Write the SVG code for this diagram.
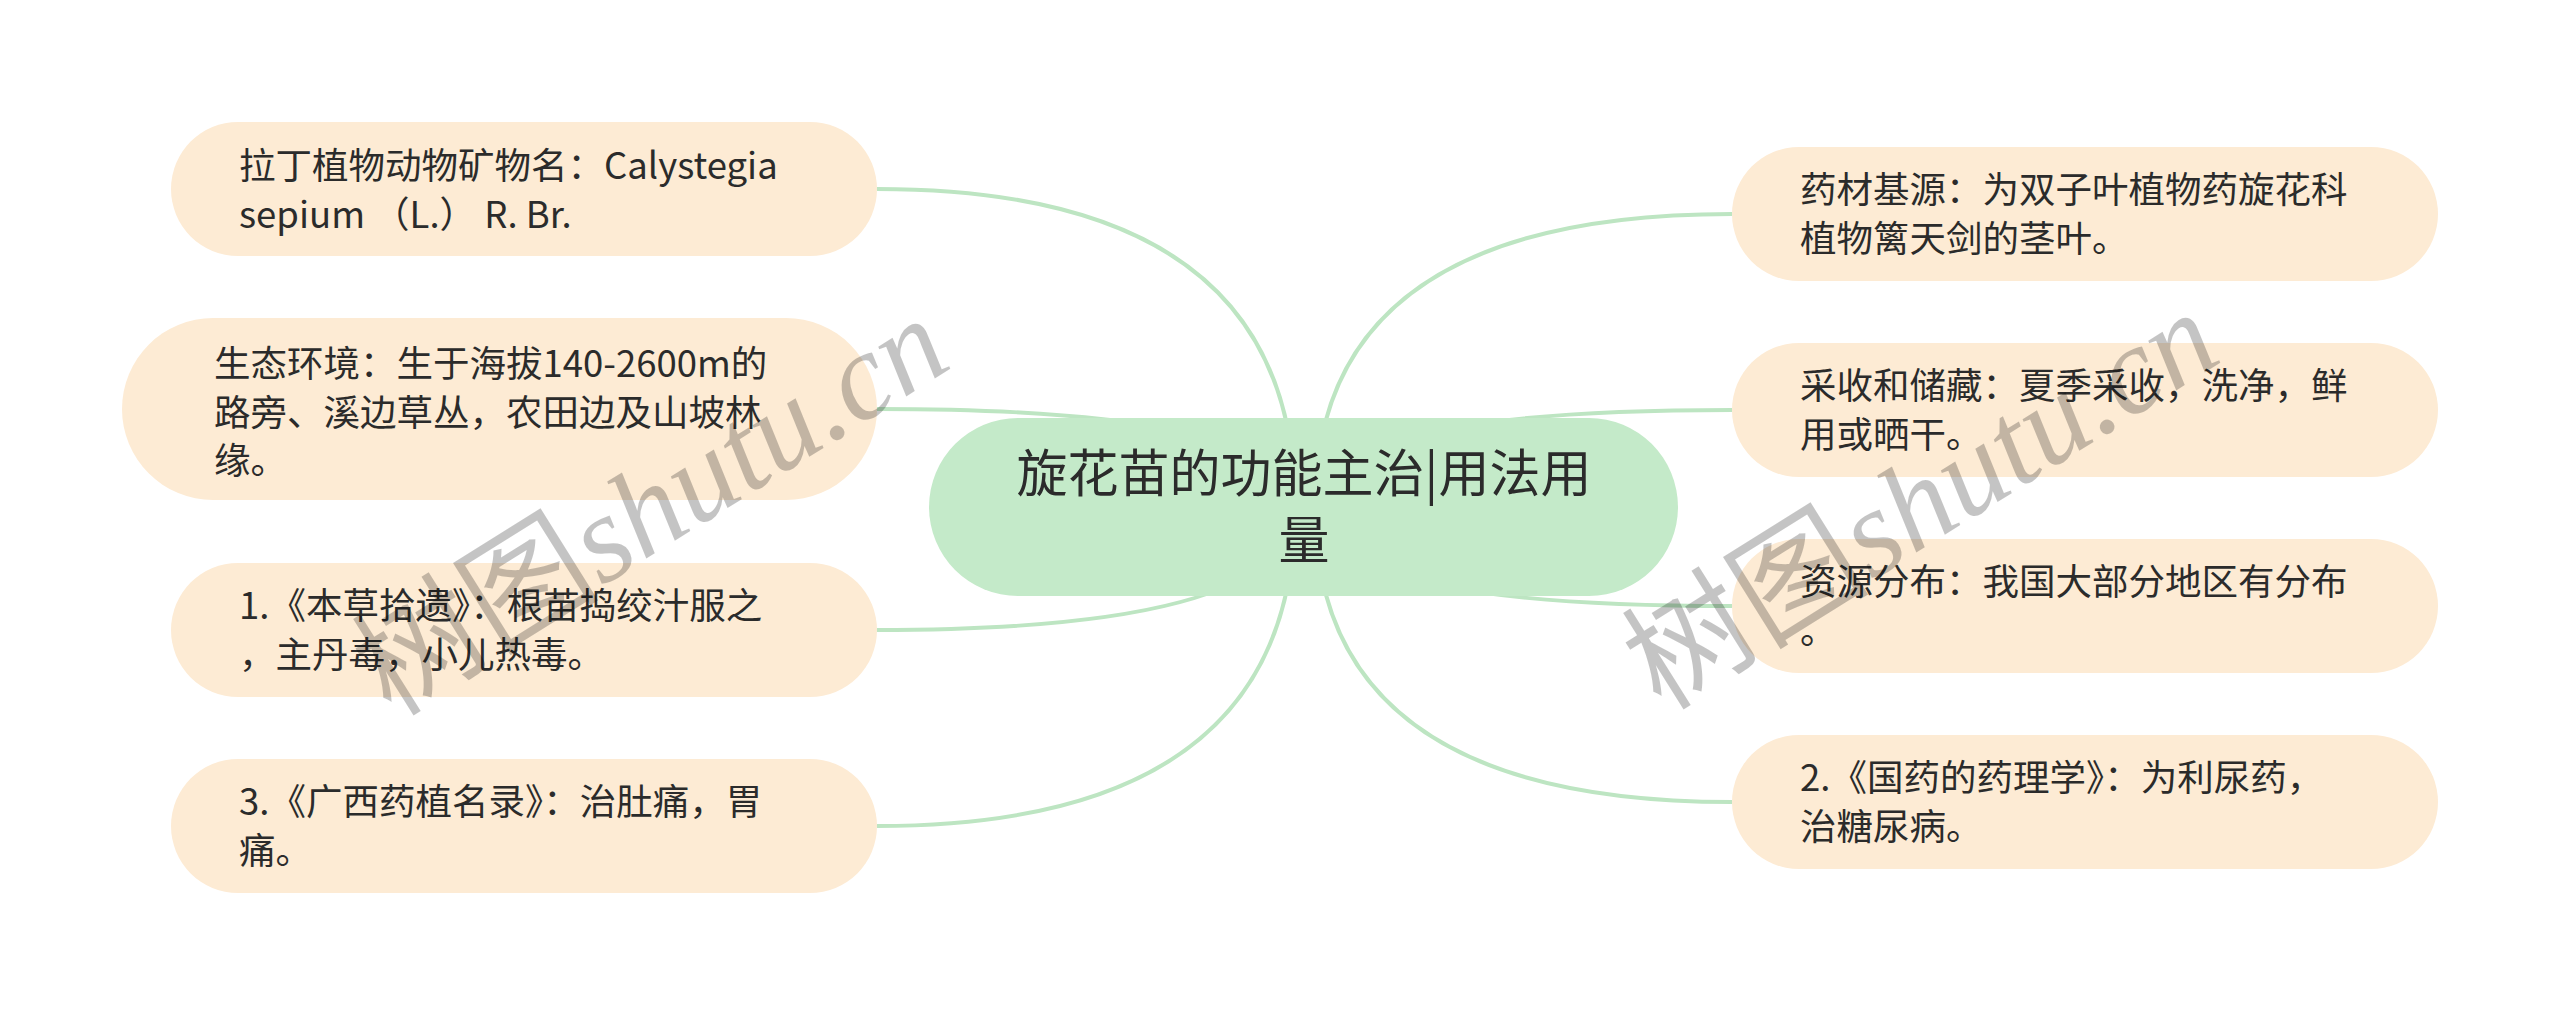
<svg xmlns="http://www.w3.org/2000/svg" width="2560" height="1015" viewBox="0 0 2560 1015">
<style>
.edge{fill:none;stroke:#bde5c2;stroke-width:4}
.leaf{fill:#fdebd4}
.root{fill:#c4eac9}
.t{font-family:"Noto Sans CJK SC","Noto Sans",sans-serif;font-size:36.5px;fill:#2b2b2b}
.rt{font-family:"Noto Sans CJK SC","Noto Sans",sans-serif;font-size:51px;fill:#2b2b2b;text-anchor:middle}
.wm{font-family:"Liberation Serif","Noto Sans CJK SC",serif;font-size:124px;fill:#000;fill-opacity:0.23;text-anchor:middle}
</style>
<rect width="2560" height="1015" fill="#ffffff"/>
<g id="connectors">
<path class="edge" d="M 877 189 Q 1295 189 1295 507"/>
<path class="edge" d="M 877 409 Q 1295 409 1295 507"/>
<path class="edge" d="M 877 630 Q 1295 630 1295 507"/>
<path class="edge" d="M 877 826 Q 1295 826 1295 507"/>
<path class="edge" d="M 1732 214 Q 1315 214 1315 507"/>
<path class="edge" d="M 1732 410 Q 1315 410 1315 507"/>
<path class="edge" d="M 1732 606 Q 1315 606 1315 507"/>
<path class="edge" d="M 1732 802 Q 1315 802 1315 507"/>
</g>
<g id="root">
<rect class="root" x="929" y="418" width="749" height="178" rx="89"/>
<text class="rt" x="1304" y="492">旋花苗的功能主治|用法用</text>
<text class="rt" x="1304" y="559">量</text>
</g>
<g id="node-l1">
<rect class="leaf" x="171" y="122" width="706" height="134" rx="67"/>
<text class="t" x="239" y="179">拉丁植物动物矿物名：Calystegia</text>
<text class="t" x="239" y="228" xml:space="preserve">sepium （L.） R. Br.</text>
</g>
<g id="node-l2">
<rect class="leaf" x="122" y="318" width="755" height="182" rx="91"/>
<text class="t" x="214" y="377">生态环境：生于海拔140-2600m的</text>
<text class="t" x="214" y="426">路旁、溪边草丛，农田边及山坡林</text>
<text class="t" x="214" y="474">缘。</text>
</g>
<g id="node-l3">
<rect class="leaf" x="171" y="563" width="706" height="134" rx="67"/>
<text class="t" x="239" y="619">1.《本草拾遗》：根苗捣绞汁服之</text>
<text class="t" x="239" y="668">，主丹毒，小儿热毒。</text>
</g>
<g id="node-l4">
<rect class="leaf" x="171" y="759" width="706" height="134" rx="67"/>
<text class="t" x="239" y="815">3.《广西药植名录》：治肚痛，胃</text>
<text class="t" x="239" y="864">痛。</text>
</g>
<g id="node-r1">
<rect class="leaf" x="1732" y="147" width="706" height="134" rx="67"/>
<text class="t" x="1800" y="203">药材基源：为双子叶植物药旋花科</text>
<text class="t" x="1800" y="252">植物篱天剑的茎叶。</text>
</g>
<g id="node-r2">
<rect class="leaf" x="1732" y="343" width="706" height="134" rx="67"/>
<text class="t" x="1800" y="399">采收和储藏：夏季采收，洗净，鲜</text>
<text class="t" x="1800" y="448">用或晒干。</text>
</g>
<g id="node-r3">
<rect class="leaf" x="1732" y="539" width="706" height="134" rx="67"/>
<text class="t" x="1800" y="595">资源分布：我国大部分地区有分布</text>
<text class="t" x="1800" y="644">。</text>
</g>
<g id="node-r4">
<rect class="leaf" x="1732" y="735" width="706" height="134" rx="67"/>
<text class="t" x="1800" y="791">2.《国药的药理学》：为利尿药，</text>
<text class="t" x="1800" y="840">治糖尿病。</text>
</g>
<g id="watermarks">
<text class="wm" transform="translate(652,508) rotate(-32)" dy="40">树图<tspan font-style="italic">shutu.cn</tspan></text>
<text class="wm" transform="translate(1922,502) rotate(-32)" dy="40">树图<tspan font-style="italic">shutu.cn</tspan></text>
</g>
</svg>
